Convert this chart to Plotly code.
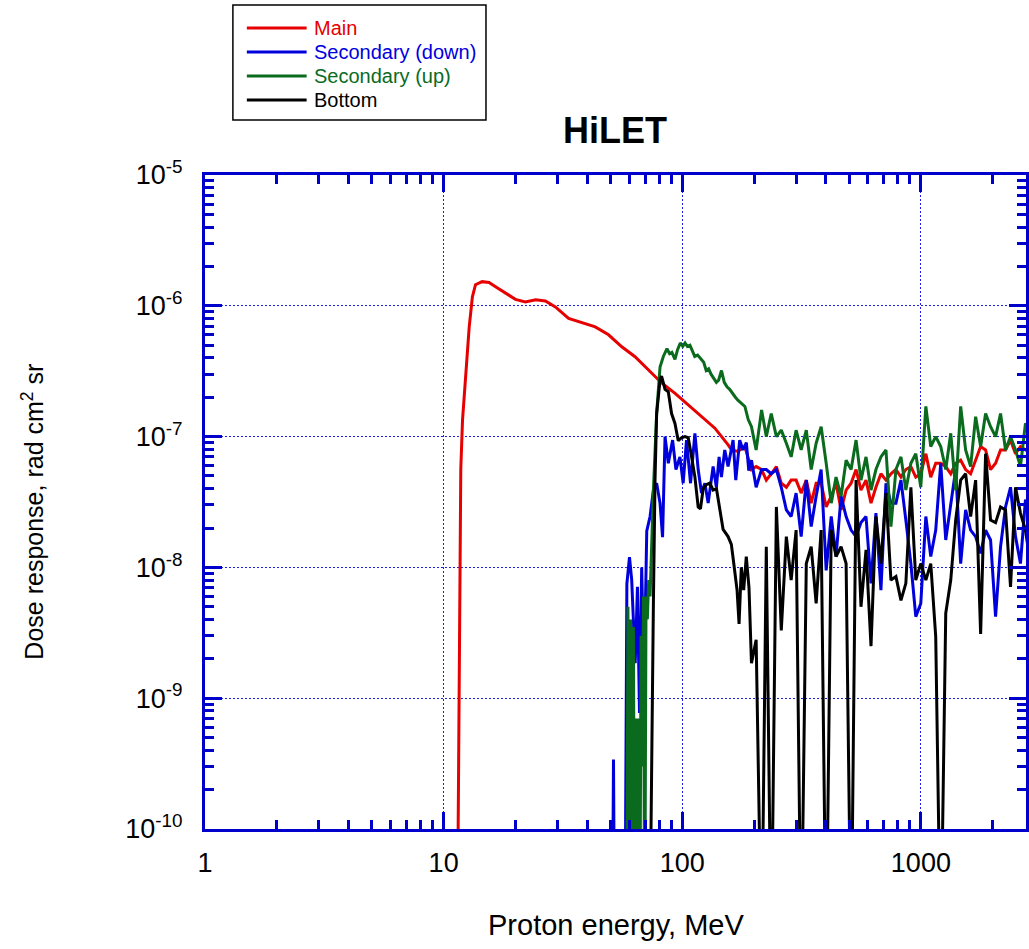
import plotly.graph_objects as go

# ---------------- data ----------------
# shared energy grid (MeV) for the noisy high-energy part
grid_energy = [195, 204, 215, 225, 236, 248, 260, 273, 286, 300, 315, 331, 347, 364, 382,
               401, 421, 441, 463, 486, 510, 535, 561, 589, 618, 648, 680, 714, 749, 786,
               825, 865, 908, 952, 999, 1049, 1100, 1154, 1211, 1271, 1334, 1399, 1468,
               1540, 1616, 1696, 1780, 1867, 1959, 2056, 2157, 2263, 2375, 2492, 2614,
               2743, 2878]

# Main
main_energy_low = [11.4, 11.6, 11.8, 12.0, 12.4, 12.8, 13.2, 13.6, 14.5, 15.5, 16.5, 18.2,
                   20.0, 22.0, 24.3, 26.7, 29.4, 33.4, 38.0, 43.2, 49.1, 55.8, 63.4, 72.1,
                   82.0, 93.3, 106, 120, 137, 156, 161, 171, 183]
main_dose_low = [1e-11, 1e-9, 5.6e-8, 1.34e-7, 3.24e-7, 6.9e-7, 1.17e-6, 1.45e-6, 1.53e-6,
                 1.51e-6, 1.40e-6, 1.24e-6, 1.12e-6, 1.07e-6, 1.11e-6, 1.09e-6, 9.8e-7,
                 8.0e-7, 7.4e-7, 6.9e-7, 6.0e-7, 4.86e-7, 4.08e-7, 3.24e-7, 2.57e-7,
                 2.14e-7, 1.74e-7, 1.42e-7, 1.16e-7, 8.6e-8, 7.9e-8, 7.7e-8, 8.4e-8]
main_dose_grid = [5.6e-8, 5.9e-8, 5.6e-8, 4.65e-8, 5.2e-8, 5.9e-8, 4.4e-8, 4.1e-8, 4.65e-8,
                  4.65e-8, 3.7e-8, 4.65e-8, 3.1e-8, 4.4e-8, 4.4e-8, 2.9e-8, 3.5e-8, 4.4e-8,
                  2.75e-8, 3.9e-8, 4.4e-8, 5.6e-8, 3.9e-8, 4.65e-8, 3.1e-8, 4.1e-8, 5.2e-8,
                  4.65e-8, 5.2e-8, 5.6e-8, 4.9e-8, 5.6e-8, 5.9e-8, 4.9e-8, 5.2e-8, 7.4e-8,
                  4.9e-8, 6.25e-8, 6.25e-8, 5.9e-8, 5.2e-8, 6.25e-8, 6.6e-8, 5.6e-8, 5.2e-8,
                  6.6e-8, 8.4e-8, 7.9e-8, 5.6e-8, 6.25e-8, 7.9e-8, 7.9e-8, 9.4e-8, 7.4e-8,
                  8.4e-8, 7.9e-8, 8.4e-8]

# Secondary (down)
down_energy_low = [50.9, 51.5, 52.1, 57.5, 58.6, 60.1, 61.4, 63.5, 64.9, 66.2, 67.6, 69.2,
                   71.0, 73.3, 75.7, 78.1, 80.7, 82.7, 84.7, 87.4, 91.1, 94.1, 97.8, 100.9,
                   104.2, 108.3, 113.0, 116.6, 120.4, 124.4, 128.4, 134.7, 139.0, 142.7,
                   145.9, 150.7, 155.6, 163.3, 167.6, 174.1, 179.7, 185.6, 190.0]
down_dose_low = [1e-11, 3.4e-10, 1e-11, 1e-11, 7.5e-9, 1.2e-8, 8.0e-9, 1.85e-9, 7.1e-9,
                 7.7e-10, 1.0e-8, 1.4e-9, 1.9e-8, 2.45e-8, 3.9e-8, 4.4e-8, 3.1e-8, 1.7e-8,
                 1.0e-7, 6.25e-8, 9.4e-8, 5.6e-8, 7.0e-8, 4.4e-8, 9.4e-8, 4.4e-8, 1.06e-7,
                 5.6e-8, 3.7e-8, 4.4e-8, 3.1e-8, 5.9e-8, 4.1e-8, 7.0e-8, 4.9e-8, 7.9e-8,
                 5.9e-8, 9.4e-8, 4.65e-8, 9.4e-8, 7.9e-8, 9.0e-8, 5.5e-8]
down_dose_grid = [6.6e-8, 4.1e-8, 5.6e-8, 5.6e-8, 5.2e-8, 5.6e-8, 4.1e-8, 2.75e-8, 2.45e-8,
                  3.7e-8, 1.72e-8, 4.65e-8, 2.05e-8, 3.5e-8, 5.6e-8, 9.5e-9, 2.45e-8,
                  1.21e-8, 3.5e-8, 2.45e-8, 1.93e-8, 1.72e-8, 2.2e-8, 2.45e-8, 7.55e-9,
                  2.6e-8, 6.7e-9, 4.4e-8, 3.1e-8, 3.1e-8, 4.65e-8, 2.3e-8, 1.07e-8, 4.2e-9,
                  5.3e-9, 2.45e-8, 1.21e-8, 1.93e-8, 6.25e-8, 1.62e-8, 3.1e-8, 5.6e-8,
                  1.07e-8, 2.75e-8, 1.93e-8, 1.72e-8, 1.28e-8, 1.93e-8, 1.62e-8, 4.2e-9,
                  1.44e-8, 2.9e-8, 4.1e-8, 1.72e-8, 1.07e-8, 3.3e-8, 2.6e-8]

# Secondary (up)
up_energy_low = [58.5, 59.2, 60.0, 60.8, 61.6, 62.4, 63.2, 64.0, 64.8, 65.6, 66.4, 67.2,
                 68.0, 68.8, 69.6, 70.5, 71.4, 72.3, 73.3, 74.5, 75.7, 78.1, 80.7, 83.3,
                 86.3, 88.5, 90.5, 93.2, 95.5, 98.1, 100.5, 102.7, 105.0, 107.7, 110.0,
                 112.8, 116.0, 120, 123, 126, 129, 132, 135.5, 139, 142, 146, 150, 154,
                 158, 163, 167, 171, 177, 183, 189]
up_dose_low = [1e-11, 5.0e-9, 1e-11, 4.0e-9, 1e-11, 3.5e-9, 1e-11, 7e-10, 1e-11, 7e-10,
               1e-11, 3e-9, 3e-10, 6e-9, 1e-11, 6e-9, 4e-9, 8e-9, 6e-9, 2e-8, 3.9e-8,
               1.5e-7, 3.4e-7, 4.1e-7, 4.7e-7, 4.3e-7, 4.4e-7, 3.9e-7, 4.6e-7, 5.2e-7,
               4.9e-7, 5.2e-7, 4.9e-7, 5.0e-7, 4.6e-7, 4.1e-7, 4.2e-7, 3.9e-7, 3.7e-7,
               3.2e-7, 3.3e-7, 3.0e-7, 2.8e-7, 2.6e-7, 2.7e-7, 3.2e-7, 2.6e-7, 2.4e-7,
               2.3e-7, 2.1e-7, 2.0e-7, 1.9e-7, 1.8e-7, 1.7e-7, 1.35e-7]
up_dose_grid = [1.19e-7, 7.9e-8, 1.6e-7, 1.0e-7, 1.5e-7, 1.0e-7, 1.12e-7, 8.9e-8, 7.0e-8,
                1.12e-7, 7.9e-8, 1.12e-7, 5.6e-8, 8.9e-8, 1.19e-7, 6.25e-8, 3.1e-8, 4.9e-8,
                3.5e-8, 6.6e-8, 5.6e-8, 9.4e-8, 4.65e-8, 7.0e-8, 3.9e-8, 5.6e-8, 7.0e-8,
                7.9e-8, 2.05e-8, 5.6e-8, 7.0e-8, 3.9e-8, 6.25e-8, 7.4e-8, 4.1e-8, 1.7e-7,
                8.4e-8, 1.0e-7, 8.4e-8, 5.6e-8, 1.06e-7, 3.9e-8, 1.7e-7, 7.9e-8, 5.9e-8,
                1.42e-7, 8.4e-8, 1.5e-7, 1.19e-7, 1.0e-7, 1.5e-7, 7.9e-8, 1.0e-7, 7.9e-8,
                5.9e-8, 1.26e-7, 1.12e-7]

# Bottom
bottom_energy_low = [73.0, 74.5, 75.7, 76.9, 78.1, 80.7, 81.9, 84.7, 87.4, 90.2, 93.2, 96.2,
                     99.3, 102.6, 105.9, 109.3, 113.0, 116.6, 119.2, 122.4, 126.3, 130.5,
                     134.7, 139.1, 143.7, 148.3, 155.6, 160.6, 164.4, 169.7, 173.0, 176.8,
                     180.9, 185.5, 190.4]
bottom_dose_low = [1e-11, 5.8e-10, 5.4e-9, 4.7e-8, 1.5e-7, 2.7e-7, 2.9e-7, 2.3e-7, 2.2e-7,
                   1.5e-7, 1.26e-7, 9.3e-8, 9.8e-8, 1.0e-7, 9.8e-8, 7.1e-8, 4.9e-8, 2.9e-8,
                   2.8e-8, 4.0e-8, 4.3e-8, 4.4e-8, 3.9e-8, 4.0e-8, 2.75e-8, 1.95e-8, 1.72e-8,
                   1.5e-8, 1.07e-8, 6.7e-9, 3.7e-9, 1.0e-8, 6.7e-9, 1.21e-8, 7.0e-9]
bottom_dose_grid = [1.85e-9, 2.8e-9, 1e-11, 1.44e-8, 1e-11, 2.9e-8, 3.3e-9, 1.72e-8, 8.0e-9,
                    1.93e-8, 1e-11, 1.07e-8, 1.44e-8, 5.3e-9, 1.93e-8, 1e-11, 1.93e-8,
                    1.21e-8, 1.44e-8, 1.07e-8, 1e-11, 4.65e-8, 5.0e-9, 1.36e-8, 2.5e-9,
                    2.45e-8, 1.07e-8, 3.7e-8, 8.0e-9, 8.5e-9, 5.6e-9, 7.55e-9, 4.1e-8,
                    8.0e-9, 1.07e-8, 8.0e-9, 1.07e-8, 2.95e-9, 1e-11, 4.45e-9, 8.0e-9,
                    2.3e-8, 4.65e-8, 5.2e-8, 2.45e-8, 4.65e-8, 3.1e-9, 7.4e-8, 2.3e-8,
                    2.2e-8, 2.9e-8, 2.75e-8, 7.1e-9, 4.1e-8, 2.6e-8, 1.93e-8, 1.07e-8]

series_names = ["Main", "Secondary (down)", "Secondary (up)", "Bottom"]

x_tick_vals = [1, 10, 100, 1000]
x_tick_text = ["1", "10", "100", "1000"]
x_minor_vals = [2, 3, 4, 5, 6, 7, 8, 9, 20, 30, 40, 50, 60, 70, 80, 90,
                200, 300, 400, 500, 600, 700, 800, 900, 2000]
y_tick_vals = [1e-10, 1e-9, 1e-8, 1e-7, 1e-6, 1e-5]
y_tick_text = ["10<sup>-10</sup>", "10<sup>-9</sup>", "10<sup>-8</sup>",
               "10<sup>-7</sup>", "10<sup>-6</sup>", "10<sup>-5</sup>"]
y_minor_vals = [m * 10.0 ** p for p in range(-10, -5) for m in range(2, 10)]

# ---------------- styling ----------------
W, H = 1029, 949
L, R, T, B = 205, 0, 175, 120
AXIS_BLUE = "#0000CC"
GRID_BLUE = "#2020E0"
COLORS = ["#E60000", "#0000DD", "#0A6B1E", "#000000"]
FONT = "Arial, Liberation Sans, sans-serif"

def px_x(px):
    return (px - L) / (W - L - R)

def px_y(py):
    return (H - B - py) / (H - T - B)

fig = go.Figure()
data = [
    (main_energy_low + grid_energy, main_dose_low + main_dose_grid),
    (down_energy_low + grid_energy, down_dose_low + down_dose_grid),
    (up_energy_low + grid_energy, up_dose_low + up_dose_grid),
    (bottom_energy_low + grid_energy, bottom_dose_low + bottom_dose_grid),
]
for name, (e, d), c in zip(series_names, data, COLORS):
    fig.add_trace(go.Scatter(x=e, y=d, mode="lines", name=name,
                             line=dict(color=c, width=3), showlegend=False))

axis_common = dict(
    type="log", showline=True, linecolor=AXIS_BLUE, linewidth=3, mirror="ticks",
    ticks="inside", ticklen=17, tickwidth=3, tickcolor=AXIS_BLUE,
    showgrid=True, gridcolor=GRID_BLUE, gridwidth=1, griddash="2px,2px",
    zeroline=False, tickfont=dict(size=27, color="black", family=FONT),
)

fig.update_layout(
    width=W, height=H,
    margin=dict(l=L, r=R, t=T, b=B, pad=0),
    paper_bgcolor="white", plot_bgcolor="white",
    font=dict(family=FONT, color="black", size=24),
    showlegend=False,
    title=dict(text="<b>HiLET</b>", x=615 / W, y=1 - 130 / H, xref="container",
               xanchor="center", yanchor="middle", font=dict(size=36, family=FONT, color="black")),
    xaxis=dict(range=[0, 824 / 239.5], tickvals=x_tick_vals, ticktext=x_tick_text,
               ticklabelstandoff=8,
               minor=dict(tickmode="array", tickvals=x_minor_vals, ticks="inside", ticklen=9,
                          tickwidth=3, tickcolor=AXIS_BLUE, showgrid=False),
               **axis_common),
    yaxis=dict(range=[-10, -5], tickvals=y_tick_vals, ticktext=y_tick_text,
               ticklabelstandoff=14,
               minor=dict(tickmode="array", tickvals=y_minor_vals, ticks="inside", ticklen=9,
                          tickwidth=3, tickcolor=AXIS_BLUE, showgrid=False),
               **axis_common),
)

# axis titles
fig.add_annotation(text="Proton energy, MeV", xref="paper", yref="paper",
                   x=px_x(617), y=px_y(925), xanchor="center", yanchor="middle",
                   showarrow=False, font=dict(size=29, family=FONT, color="black"))
fig.add_annotation(text="Dose response, rad cm<sup>2</sup> sr", xref="paper", yref="paper",
                   x=px_x(32), y=px_y(512), xanchor="center", yanchor="middle", textangle=-90,
                   showarrow=False, font=dict(size=25, family=FONT, color="black"))

# legend box (drawn manually to match the reference layout)
fig.add_shape(type="rect", xref="paper", yref="paper",
              x0=px_x(233), x1=px_x(487), y0=px_y(120), y1=px_y(5),
              line=dict(color="black", width=1.5), fillcolor="white", layer="above")
for i, (name, c) in enumerate(zip(series_names, COLORS)):
    yy = px_y(28 + 24 * i)
    fig.add_shape(type="line", xref="paper", yref="paper",
                  x0=px_x(247), x1=px_x(307), y0=yy, y1=yy,
                  line=dict(color=c, width=3), layer="above")
    fig.add_annotation(text=name, xref="paper", yref="paper", x=px_x(312), y=yy,
                       xanchor="left", yanchor="middle", showarrow=False,
                       font=dict(size=20, family=FONT, color=c))

fig.write_html("out.html")
